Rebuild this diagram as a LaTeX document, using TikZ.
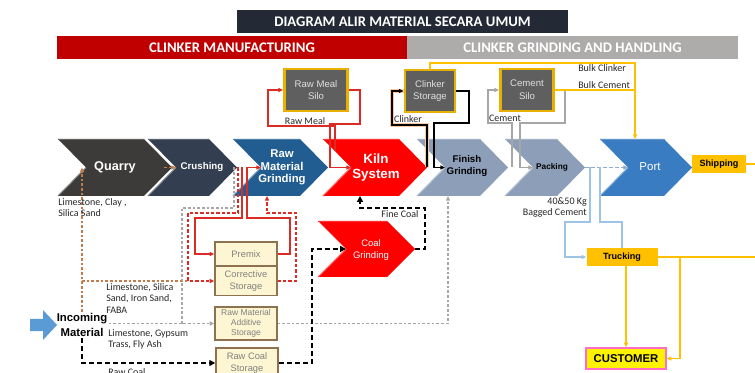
\documentclass[tikz,border=0pt]{standalone}
\usepackage{fontspec}
\setmainfont{Liberation Sans}
\newfontfamily\calfont{Carlito}
\usetikzlibrary{arrows.meta}

\definecolor{titlebg}{HTML}{232A35}
\definecolor{mfgred}{HTML}{C00000}
\definecolor{cghgray}{HTML}{AEABAB}
\definecolor{quarrycol}{HTML}{3D3B39}
\definecolor{crushcol}{HTML}{333F50}
\definecolor{rmgcol}{HTML}{215D90}
\definecolor{kilncol}{HTML}{FF0000}
\definecolor{finishcol}{HTML}{8D9EB8}
\definecolor{portcol}{HTML}{3A7CC2}
\definecolor{ambercol}{HTML}{FFC000}
\definecolor{siloface}{HTML}{5F5F5F}
\definecolor{silorim}{HTML}{E8B000}
\definecolor{creamface}{HTML}{FEF6D3}
\definecolor{creamrim}{HTML}{8E7250}
\definecolor{linered}{HTML}{DC2A24}
\definecolor{linegray}{HTML}{A6A6A6}
\definecolor{linebrown}{HTML}{C27B4C}
\definecolor{lineblue}{HTML}{9DC3E6}
\definecolor{dashblue}{HTML}{8FA9D0}
\definecolor{glow}{HTML}{F9C9A5}
\definecolor{arrowblue}{HTML}{5B9BD5}
\definecolor{pinkrim}{HTML}{FF6FC8}
\definecolor{labeltxt}{HTML}{262626}

% chevron: name, left x, right x, top y, bottom y, colour
\newcommand{\chevshape}[6]{%
  \fill[#6] (#2,#4) -- (#3-28,#4) -- (#3,#4/2+#5/2) -- (#3-28,#5) -- (#2,#5) -- (#2+28,#4/2+#5/2) -- cycle;%
  \draw[#6!65!white,line width=0.8pt] (#2+28,#4/2+#5/2) -- (#2,#5);%
  \draw[#6!80!white,line width=0.6pt] (#2,#4) -- (#3-28,#4);%
  \coordinate (#1 tip) at (#3,#4/2+#5/2);%
  \coordinate (#1 notch) at (#2+28,#4/2+#5/2);%
}

\tikzset{
  arr/.style={-{Triangle[length=3.5pt,width=3pt]}},
  bigarr/.style={-{Triangle[length=4.5pt,width=4.5pt]}},
  redln/.style={draw=linered, line width=0.9pt},
  reddash/.style={redln, dash pattern=on 2.5pt off 1.5pt},
  blkln/.style={draw=black, line width=0.9pt},
  glowln/.style={draw=glow, line width=3pt},
  gryln/.style={draw=linegray, line width=0.9pt},
  grydash/.style={draw=linegray, line width=0.9pt, dash pattern=on 2pt off 1.5pt},
  brndash/.style={draw=linebrown, line width=0.9pt, dash pattern=on 2pt off 1.5pt},
  coaldash/.style={draw=black, line width=1.5pt, dash pattern=on 4pt off 2pt},
  ambln/.style={draw=ambercol, line width=0.9pt},
  blueln/.style={draw=lineblue, line width=0.9pt},
  bluedash/.style={draw=dashblue, line width=1pt, dash pattern=on 3pt off 1.5pt},
  bar/.style={minimum height=17.25pt, inner sep=0pt, text=white, font=\calfont\bfseries\fontsize{11}{12}\selectfont},
  silo/.style={draw=silorim, line width=2.2pt, fill=siloface, text=white!88!black, align=center, inner sep=0pt,
    minimum height=31.5pt, font=\fontsize{7.2}{9.5}\selectfont},
  store/.style={draw=creamrim, line width=1.1pt, fill=creamface, text=black!50, align=center, inner sep=0pt,
    minimum width=46.5pt, font=\fontsize{7}{8.5}\selectfont},
  tag/.style={fill=ambercol, inner sep=0pt, minimum height=13.5pt, font=\bfseries\fontsize{6.8}{8}\selectfont},
  chevtxt/.style={text=white, align=center, inner sep=0pt},
  note/.style={font=\calfont\fontsize{7.5}{8.7}\selectfont, text=labeltxt, inner sep=0pt, align=left},
}

\begin{document}
\begin{tikzpicture}[x=0.75pt,y=-0.75pt]
\useasboundingbox (0,0) rectangle (755,373);
% header bars
\node[bar,fill=titlebg,minimum width=248.25pt] (title) at (402.5,21.5) {DIAGRAM ALIR MATERIAL SECARA UMUM};
\node[bar,fill=mfgred,minimum width=262.5pt] (mfg) at (232,47.5) {CLINKER MANUFACTURING};
\node[bar,fill=cghgray,minimum width=248.25pt] (cgh) at (572.5,47.5) {CLINKER GRINDING AND HANDLING};

% process chevrons
\chevshape{quarry}{58}{172}{139}{196}{quarrycol}
\chevshape{crushing}{148}{237}{139}{196}{crushcol}
\chevshape{rmg}{233}{328}{139}{196}{rmgcol}
\chevshape{kiln}{323}{427}{139}{196}{kilncol}
\chevshape{finish}{417}{508}{139}{196}{finishcol}
\chevshape{packing}{505}{585}{139}{196}{finishcol}
\chevshape{port}{600}{692}{139}{196}{portcol}
\chevshape{coal}{318}{415}{221}{277}{kilncol}
\node[chevtxt,font=\bfseries\fontsize{9.5}{11}\selectfont] (quarry) at (115,167.5) {Quarry};
\node[chevtxt,font=\bfseries\fontsize{7.3}{9}\selectfont] (crushing) at (202,167.5) {Crushing};
\node[chevtxt,font=\bfseries\fontsize{8.5}{9.4}\selectfont] (rmg) at (282,167.5) {Raw\\Material\\Grinding};
\node[chevtxt,font=\bfseries\fontsize{10}{11.3}\selectfont] (kiln) at (376,168) {Kiln\\System};
\node[chevtxt,text=black,font=\bfseries\fontsize{7.3}{9}\selectfont] (finish) at (467,166) {Finish\\Grinding};
\node[chevtxt,text=black,font=\bfseries\fontsize{6.2}{8}\selectfont] (packing) at (552,167) {Packing};
\node[chevtxt,font=\fontsize{8.6}{10}\selectfont] (port) at (650,167) {Port};
\node[chevtxt,font=\fontsize{7.1}{9}\selectfont] (coal) at (371,250) {Coal\\Grinding};

% incoming material
\fill[arrowblue] (30,319) -- (43,319) -- (43,310) -- (57,325) -- (43,340) -- (43,331) -- (30,331) -- cycle;%
\node[align=center,inner sep=1pt,font=\bfseries\fontsize{8.5}{11}\selectfont] (incoming) at (82,325) {Incoming\\Material};

% silos and storages
\node[silo,minimum width=47.25pt] (rawmeal) at (316,90) {Raw Meal\\Silo};
\node[silo,minimum width=37.5pt] (clinker) at (430,91) {Clinker\\Storage};
\node[silo,minimum width=39.75pt] (cement) at (527,90) {Cement\\Silo};
\node[store,minimum height=18pt] (premix) at (246,254) {Premix};
\node[store,minimum height=21.75pt] (corrective) at (246,281) {Corrective\\Storage};
\node[store,minimum height=24.75pt,font=\fontsize{6.4}{7.5}\selectfont] (additive) at (246,323.5) {Raw Material\\Additive\\Storage};
\node[store,minimum height=22.5pt] (rawcoal) at (247,363) {Raw Coal\\Storage};
\node[tag,minimum width=53.25pt] (trucking) at (622,257) {Trucking};
\node[tag,minimum width=40.5pt] (shipping) at (719,164) {Shipping};
\node[draw=pinkrim,line width=1pt,fill=yellow,minimum width=60pt,minimum height=15.75pt,inner sep=0pt,
  font=\bfseries\fontsize{8.5}{10}\selectfont] (customer) at (626,358.5) {CUSTOMER};

% raw meal loop
\draw[redln,arr] (335,151) |- (268,126) |- (rawmeal.west);
\draw[redln,arr] (rawmeal.east) -| (360,124) -| (330,167.5) -- (kiln notch);
% clinker
\draw[glowln] (kiln tip) |- (392,125) |- (clinker.west);
\draw[blkln,arr] (kiln tip) |- (392,125) |- (clinker.west);
\draw[blkln,arr] (clinker.east) -| (469,123) -| (434,167.5) -- (finish notch);
% cement
\draw[gryln,arr] (512,167.5) |- (488,123) |- (cement.west);
\draw[gryln,arr] (cement.east) -| (565,123) -| (520,167.5) -- (packing notch);
% bulk to port
\coordinate (bulk) at (635,63);
\draw[ambln,arr] (clinker.north) |- (bulk) -- (635,139);
\draw[ambln] (cement.east) -- (cement.east -| bulk);
% bagged cement
\draw[bluedash,arr] (packing tip) -- (port notch);
\draw[blueln,arr] (590,167.5) |- (565,222) |- (trucking.west);
\draw[blueln] (600,167.5) |- (622,222) -- (trucking.north);
% delivery
\draw[ambln,arr] (trucking.south -| customer.north) -- (customer.north);
\draw[ambln,arr] (trucking.east) -| (680,358.5) -- (customer.east);
\draw[ambln] (trucking.east) -- (755,257);
\draw[ambln] (shipping.east) -- (755,164);

% raw material feeds
\draw[brndash,arr] (incoming.north) -- (incoming.north |- quarry notch);
\draw[brndash] (82,281) -- (188,281);
\draw[brndash,arr] (164,167.5) -- (crushing notch);
\draw[reddash,arr] (238,167.5) |- (188,213) |- (corrective.west);
\draw[reddash,arr] (corrective.east) -| (296,213) -| (267,196);
\draw[redln,arr] (242,167.5) |- (195,218) |- (premix.west);
\draw[redln,arr] (premix.east) -| (290,218) -| (247,167.5) -- (rmg notch);
\draw[grydash] (234,167.5) |- (182,208) -- (182,323.5);
\draw[grydash,arr] (incoming.east |- additive.west) -- (additive.west);
\draw[grydash,arr] (additive.east) -| (448,196);
% coal
\draw[coaldash,bigarr] (incoming.south) |- (rawcoal.west);
\draw[coaldash,bigarr] (rawcoal.east) -| (312,249) -- (coal notch);
\draw[coaldash,bigarr] (coal tip) -| (425,208) -| (360,196);

% labels
\node[note,anchor=north west] (quarrymix) at (58,198) {Limestone, Clay ,\\Silica Sand};
\node[note,anchor=north west] (correctmix) at (106,283) {Limestone, Silica\\Sand, Iron Sand,\\FABA};
\node[note,anchor=north west] (additivemix) at (108,329) {Limestone, Gypsum\\Trass, Fly Ash};
\node[note,anchor=north west] (coalmix) at (108,368) {Raw Coal};
\node[note] (rawmeallbl) at (305,121) {Raw Meal};
\node[note] (clinkerlbl) at (408,119) {Clinker};
\node[note] (cementlbl) at (505,118) {Cement};
\node[note,anchor=west] (bulkclk) at (578,68) {Bulk Clinker};
\node[note,anchor=west] (bulkcem) at (578,85) {Bulk Cement};
\node[note] (finecoal) at (400,214) {Fine Coal};
\node[note,anchor=north east,align=right] (bagged) at (587,197) {40\&50 Kg\\Bagged Cement};
\end{tikzpicture}
\end{document}
